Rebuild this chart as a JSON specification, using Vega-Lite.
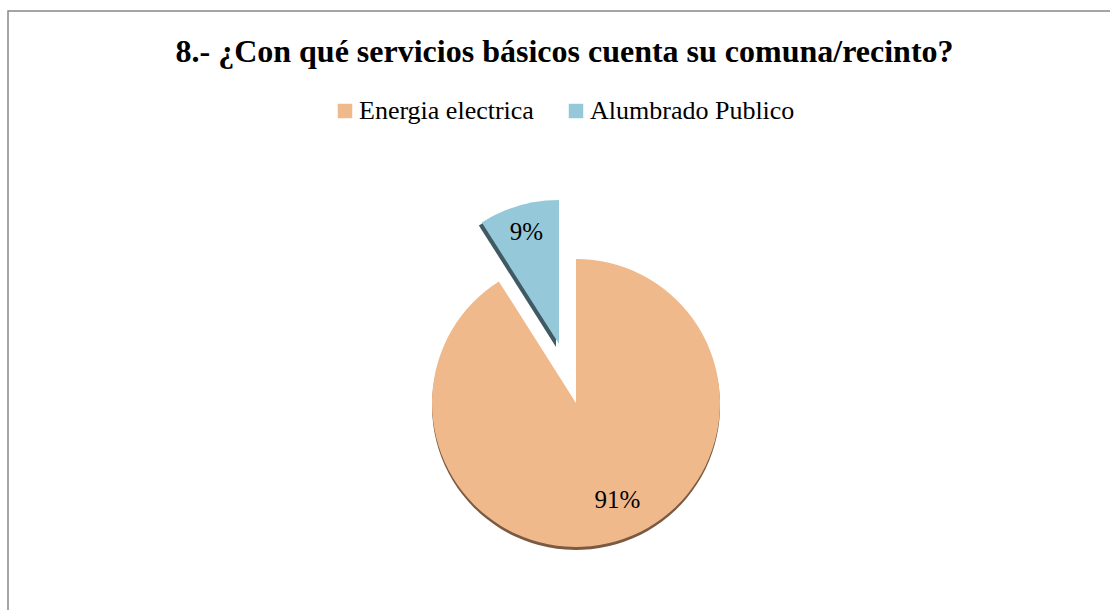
{
  "$schema": "https://vega.github.io/schema/vega-lite/v6.json",
  "width": 1105,
  "height": 602,
  "autosize": {"type": "none"},
  "padding": {"left": 8, "top": 11, "right": -3, "bottom": -3},
  "background": "white",
  "view": {"stroke": "#888888", "strokeWidth": 1.5},
  "title": {
    "text": "8.- ¿Con qué servicios básicos cuenta su comuna/recinto?",
    "font": "Liberation Serif",
    "fontSize": 32,
    "fontWeight": "bold",
    "color": "black",
    "anchor": "middle",
    "offset": -58,
    "dx": 4
  },
  "data": {
    "values": [
      {"servicio": "Energia electrica", "porcentaje": 0.91, "orden": 1},
      {"servicio": "Alumbrado Publico", "porcentaje": 0.09, "orden": 2}
    ]
  },
  "encoding": {
    "theta": {"field": "porcentaje", "type": "quantitative", "stack": true},
    "order": {"field": "orden", "type": "quantitative"}
  },
  "layer": [
    {
      "mark": {"type": "arc", "radius": 144, "fill": "#7a5a42", "xOffset": 15.5, "yOffset": 94},
      "encoding": {
        "opacity": {"condition": {"test": "datum.servicio === 'Alumbrado Publico'", "value": 0}, "value": 1}
      }
    },
    {
      "mark": {"type": "arc", "radius": 144, "fill": "#3f5a63", "xOffset": -4.5, "yOffset": 35},
      "encoding": {
        "opacity": {"condition": {"test": "datum.servicio === 'Energia electrica'", "value": 0}, "value": 1}
      }
    },
    {
      "mark": {"type": "arc", "radius": 144, "xOffset": 15.5, "yOffset": 91},
      "encoding": {
        "color": {
          "field": "servicio",
          "type": "nominal",
          "scale": {"domain": ["Energia electrica", "Alumbrado Publico"], "range": ["#F0B98C", "#95C9D9"]},
          "legend": {
            "orient": "none",
            "legendX": 324,
            "legendY": 87,
            "direction": "horizontal",
            "title": null,
            "symbolType": "square",
            "symbolSize": 210,
            "symbolStrokeWidth": 0,
            "symbolOpacity": 1,
            "labelFont": "Liberation Serif",
            "labelFontSize": 26,
            "labelColor": "black",
            "labelOffset": 1,
            "columnPadding": 29,
            "labelLimit": 400,
            "padding": 0
          }
        },
        "opacity": {"condition": {"test": "datum.servicio === 'Alumbrado Publico'", "value": 0}, "value": 1}
      }
    },
    {
      "mark": {"type": "arc", "radius": 144, "xOffset": -1.5, "yOffset": 32},
      "encoding": {
        "color": {"field": "servicio", "type": "nominal"},
        "opacity": {"condition": {"test": "datum.servicio === 'Energia electrica'", "value": 0}, "value": 1}
      }
    },
    {
      "mark": {"type": "text", "radius": 105, "xOffset": 27.5, "yOffset": 87, "font": "Liberation Serif", "fontSize": 25, "color": "black", "align": "center", "baseline": "middle"},
      "encoding": {
        "text": {"field": "porcentaje", "type": "quantitative", "format": ".0%"},
        "opacity": {"condition": {"test": "datum.servicio === 'Alumbrado Publico'", "value": 0}, "value": 1}
      }
    },
    {
      "mark": {"type": "text", "radius": 117, "xOffset": -1.5, "yOffset": 32, "font": "Liberation Serif", "fontSize": 25, "color": "black", "align": "center", "baseline": "middle"},
      "encoding": {
        "text": {"field": "porcentaje", "type": "quantitative", "format": ".0%"},
        "opacity": {"condition": {"test": "datum.servicio === 'Energia electrica'", "value": 0}, "value": 1}
      }
    }
  ]
}
